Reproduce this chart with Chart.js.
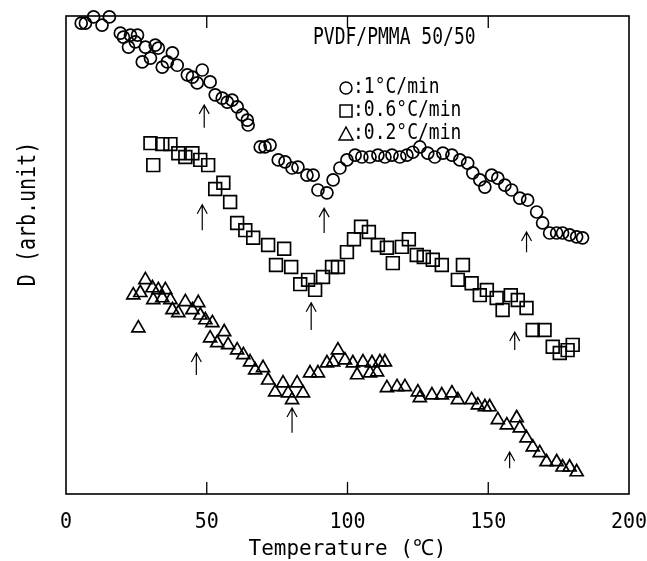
<!DOCTYPE html>
<html>
<head>
  <title>PVDF/PMMA 50/50</title>
  <script src="https://cdn.jsdelivr.net/npm/chart.js@4.4.0/dist/chart.umd.min.js"></script>
  <style>
    html, body { margin: 0; padding: 0; background: #fff; }
    canvas { display: block; }
  </style>
</head>
<body>
  <canvas id="myChart" width="647" height="561"></canvas>
  <script>
    // tick labels on the temperature axis
    var xTicks = [0, 50, 100, 150, 200];

    // 1 C/min (circles)
    var circleT = [5.4, 6.9, 9.8, 12.8, 15.4, 19.3, 20.4, 22.9, 25.4, 22.2, 24.6, 28.2, 31.7, 32.8, 27.1, 30.0, 34.2, 36.0, 37.8, 39.5,
      43.1, 44.9, 46.6, 48.4, 51.2, 53.0, 55.5, 57.3, 59.0, 60.8, 62.6, 64.4, 64.7, 69.0, 70.7, 72.5, 75.4, 77.8, 80.3, 82.4,
      85.6, 87.8, 89.5, 92.7, 94.9, 97.3, 99.8, 102.7, 105.1, 108.0, 110.8, 113.3, 115.8, 118.6, 121.1, 123.2, 125.7, 128.5, 131.0, 133.9,
      137.1, 139.9, 142.7, 144.5, 147.0, 148.8, 151.2, 153.4, 155.9, 158.3, 161.2, 164.0, 167.2, 169.3, 171.8, 174.3, 176.4, 178.9, 181.4, 183.5];
    var circleD = [98.5, 98.5, 99.8, 98.1, 99.8, 96.4, 95.6, 96.0, 96.0, 93.5, 94.6, 93.5, 93.9, 93.3, 90.4, 91.2, 89.3, 90.4, 92.3, 89.7,
      87.7, 87.2, 86.0, 88.7, 86.2, 83.5, 82.8, 82.0, 82.4, 81.0, 79.3, 78.2, 77.2, 72.6, 72.6, 73.0, 69.9, 69.5, 68.2, 68.4,
      66.7, 66.7, 63.6, 63.0, 65.7, 68.2, 69.9, 70.9, 70.5, 70.5, 70.9, 70.5, 70.9, 70.5, 70.9, 71.5, 72.6, 71.3, 70.5, 71.3,
      70.9, 69.9, 69.2, 67.2, 65.7, 64.2, 66.7, 66.1, 64.6, 63.6, 61.9, 61.5, 59.0, 56.7, 54.6, 54.6, 54.6, 54.2, 53.8, 53.6];

    // 0.6 C/min (squares)
    var squareT = [30.0, 34.2, 37.1, 31.0, 39.9, 42.4, 44.9, 47.7, 50.5, 53.0, 55.9, 58.3, 60.8, 63.7, 66.5, 71.8, 74.6, 77.5, 80.0, 83.2,
      86.0, 88.5, 91.3, 94.5, 96.6, 99.8, 102.3, 104.8, 107.6, 110.8, 114.0, 116.1, 119.3, 121.8, 124.6, 127.1, 130.3, 133.5, 139.2, 141.0,
      144.1, 147.0, 149.5, 153.0, 155.1, 158.0, 160.5, 163.6, 165.8, 170.0, 172.9, 175.4, 178.2, 180.0];
    var squareD = [73.4, 73.2, 73.2, 68.8, 71.3, 70.5, 71.3, 69.9, 68.8, 63.8, 65.1, 61.1, 56.7, 55.2, 53.6, 52.1, 47.9, 51.3, 47.5, 43.9,
      44.8, 42.7, 45.4, 47.5, 47.5, 50.6, 53.3, 55.9, 54.8, 52.1, 51.5, 48.3, 51.7, 53.3, 50.0, 49.6, 49.0, 47.9, 44.8, 47.9,
      44.1, 41.6, 42.7, 41.0, 38.5, 41.6, 40.6, 38.9, 34.3, 34.3, 30.8, 29.5, 30.1, 31.2];

    // 0.2 C/min (triangles)
    var triT = [25.7, 23.9, 26.4, 28.2, 30.7, 32.8, 35.3, 31.0, 34.2, 37.1, 37.8, 39.9, 42.4, 44.9, 47.0, 47.7, 49.5, 52.0, 51.2, 53.7,
      56.2, 57.6, 60.8, 63.0, 65.4, 67.2, 70.0, 71.8, 74.3, 77.1, 78.9, 80.3, 82.1, 84.2, 86.7, 89.5, 92.7, 94.9, 96.6, 99.1,
      101.9, 103.4, 105.5, 108.0, 108.7, 110.5, 111.5, 113.3, 114.0, 117.6, 120.4, 125.0, 125.7, 130.0, 133.5, 137.1, 139.2, 144.1, 146.3, 148.8,
      150.5, 153.4, 156.6, 160.1, 161.2, 163.6, 165.8, 168.3, 170.7, 174.3, 176.4, 178.9, 181.4];
    var triD = [34.7, 41.6, 42.1, 44.8, 43.1, 42.7, 42.7, 40.6, 41.0, 40.6, 38.5, 37.9, 40.2, 38.5, 40.0, 37.4, 36.4, 35.8, 32.6, 31.6,
      33.9, 31.2, 30.1, 29.1, 27.6, 25.9, 26.4, 23.8, 21.3, 23.2, 21.1, 19.7, 23.2, 21.1, 25.3, 25.3, 27.4, 27.6, 30.1, 28.0,
      27.4, 24.9, 27.6, 25.3, 27.4, 25.5, 27.6, 27.6, 22.2, 22.4, 22.4, 21.3, 20.1, 20.7, 20.7, 21.1, 19.7, 19.7, 18.6, 18.2,
      18.2, 15.5, 14.4, 15.9, 13.8, 11.7, 9.8, 8.6, 6.7, 6.7, 5.6, 5.6, 4.6];

    // transition arrows (temperature, arrow tip, arrow tail)
    var arrowT = [49.1, 48.4, 46.3, 91.7, 87.1, 80.3, 163.6, 159.4, 157.6];
    var arrowTop = [81.4, 60.5, 29.5, 59.8, 40.0, 18.0, 54.8, 33.9, 8.8];
    var arrowBottom = [76.6, 55.2, 24.9, 54.6, 34.3, 12.8, 50.6, 30.1, 5.4];

    var FONT = '"DejaVu Sans Mono", "Liberation Mono", monospace';

    function toPoints(xs, ys) {
      return xs.map(function(x, i) { return { x: x, y: ys[i] }; });
    }

    // stretched text, like the old plotter lettering
    function tallText(ctx, str, x, y, size, stretch, align, angle) {
      ctx.save();
      ctx.translate(x, y);
      if (angle) ctx.rotate(angle);
      ctx.scale(1, stretch);
      ctx.font = size + 'px ' + FONT;
      ctx.fillStyle = '#000';
      ctx.textAlign = align;
      ctx.textBaseline = 'middle';
      ctx.fillText(str, 0, 0);
      ctx.restore();
    }

    var decorations = {
      id: 'decorations',
      afterDraw: function(chart) {
        var ctx = chart.ctx;
        var area = chart.chartArea;
        var xs = chart.scales.x;
        var ys = chart.scales.y;

        ctx.save();
        ctx.strokeStyle = '#000';
        ctx.lineWidth = 1.6;
        ctx.strokeRect(area.left, area.top, area.right - area.left, area.bottom - area.top);

        // inward tick marks top and bottom
        ctx.lineWidth = 1.3;
        xTicks.forEach(function(t) {
          var px = xs.getPixelForValue(t);
          if (t > xTicks[0] && t < xTicks[xTicks.length - 1]) {
            ctx.beginPath();
            ctx.moveTo(px, area.bottom);
            ctx.lineTo(px, area.bottom - 12);
            ctx.moveTo(px, area.top);
            ctx.lineTo(px, area.top + 12);
            ctx.stroke();
          }
          tallText(ctx, String(t), px, area.bottom + 29, 20, 1.05, 'center');
        });

        // arrows
        ctx.lineWidth = 1.2;
        for (var i = 0; i < arrowT.length; i++) {
          var ax = xs.getPixelForValue(arrowT[i]);
          var ay1 = ys.getPixelForValue(arrowTop[i]);
          var ay2 = ys.getPixelForValue(arrowBottom[i]);
          ctx.beginPath();
          ctx.moveTo(ax, ay2);
          ctx.lineTo(ax, ay1);
          ctx.moveTo(ax - 5, ay1 + 9);
          ctx.lineTo(ax, ay1);
          ctx.lineTo(ax + 5, ay1 + 9);
          ctx.stroke();
        }

        // axis titles
        tallText(ctx, 'Temperature (\u2103)', (area.left + area.right) / 2, area.bottom + 55, 21, 1.05, 'center');
        tallText(ctx, 'D (arb.unit)', 29, 214, 20, 1.2, 'center', -Math.PI / 2);

        // title and legend
        tallText(ctx, 'PVDF/PMMA 50/50', 313, 38, 18, 1.25, 'left');
        var rows = [':1\u00b0C/min', ':0.6\u00b0C/min', ':0.2\u00b0C/min'];
        var rowY = [88, 111, 134];
        ctx.lineWidth = 1.5;
        for (var r = 0; r < rows.length; r++) {
          var cx = 346, cy = rowY[r];
          ctx.beginPath();
          if (r === 0) {
            ctx.arc(cx, cy, 6, 0, Math.PI * 2);
          } else if (r === 1) {
            ctx.rect(cx - 6, cy - 6, 12, 12);
          } else {
            ctx.moveTo(cx, cy - 7);
            ctx.lineTo(cx + 7, cy + 6);
            ctx.lineTo(cx - 7, cy + 6);
            ctx.closePath();
          }
          ctx.stroke();
          tallText(ctx, rows[r], 353, cy, 18, 1.15, 'left');
        }
        ctx.restore();
      }
    };

    function series(xs, ys, style, radius) {
      return {
        data: toPoints(xs, ys),
        pointStyle: style,
        pointRadius: radius,
        pointHoverRadius: radius,
        borderColor: '#000',
        backgroundColor: 'rgba(0,0,0,0)',
        borderWidth: 1.7,
        showLine: false,
        clip: false
      };
    }

    var ctx = document.getElementById('myChart').getContext('2d');
    var myChart = new Chart(ctx, {
      type: 'scatter',
      data: {
        datasets: [
          series(circleT, circleD, 'circle', 6),
          series(squareT, squareD, 'rect', 9),
          series(triT, triD, 'triangle', 7.5)
        ]
      },
      options: {
        responsive: false,
        animation: false,
        layout: { padding: { left: 66, right: 18, top: 16, bottom: 67 } },
        plugins: { legend: { display: false }, tooltip: { enabled: false } },
        scales: {
          x: { type: 'linear', min: 0, max: 200, display: false },
          y: { type: 'linear', min: 0, max: 100, display: false }
        }
      },
      plugins: [decorations]
    });
  </script>
</body>
</html>
